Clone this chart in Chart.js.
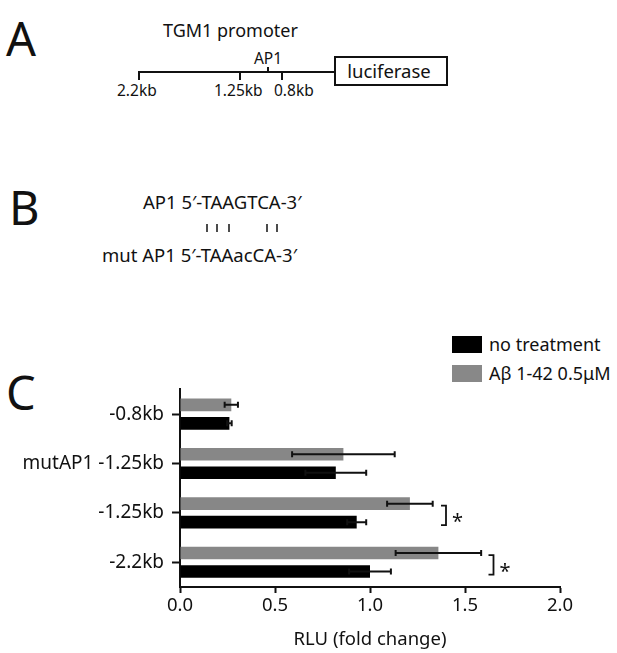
<!DOCTYPE html>
<html lang="en">
<head>
  <meta charset="UTF-8" />
  <title>TGM1 promoter luciferase</title>
  <script src="https://cdn.jsdelivr.net/npm/chart.js"></script>
  <style>
    body { margin: 0; background: #fff; }
    #fig { position: relative; width: 617px; height: 653px; overflow: hidden; }
    #fig svg { position: absolute; left: 0; top: 0; }
    #rluChart { position: absolute; left: 0; top: 370px; }
    svg text { font-family: 'Noto Sans', 'Open Sans', sans-serif; fill: #111; }
  </style>
</head>
<body>
<div id="fig">
  <svg width="617" height="653">
    <!-- A: promoter construct -->
    <text x="6" y="56" font-size="47">A</text>
    <text x="163" y="37" font-size="18">TGM1 promoter</text>
    <g stroke="#111" stroke-width="2" fill="none">
      <line x1="138" y1="72" x2="335" y2="72" />
      <line x1="139" y1="71" x2="139" y2="80" />
      <line x1="240" y1="71" x2="240" y2="80" />
      <line x1="282" y1="71" x2="282" y2="80" />
      <line x1="268" y1="67" x2="268" y2="72" />
      <rect x="335" y="57" width="112" height="28" fill="#fff" />
    </g>
    <text x="268" y="64" font-size="15.5" text-anchor="middle">AP1</text>
    <text x="117" y="96" font-size="15.5">2.2kb</text>
    <text x="214" y="96" font-size="15.5">1.25kb</text>
    <text x="274" y="96" font-size="15.5">0.8kb</text>
    <text x="389" y="78" font-size="18.5" text-anchor="middle">luciferase</text>

    <!-- B: AP1 site -->
    <text x="9" y="225" font-size="47">B</text>
    <text x="143" y="209" font-size="18.5">AP1 5′-TAAGTCA-3′</text>
    <g stroke="#111" stroke-width="1.5">
      <line x1="207" y1="224" x2="207" y2="232" />
      <line x1="217" y1="224" x2="217" y2="232" />
      <line x1="229" y1="224" x2="229" y2="232" />
      <line x1="267" y1="224" x2="267" y2="232" />
      <line x1="277" y1="224" x2="277" y2="232" />
    </g>
    <text x="102" y="262" font-size="18.5">mut AP1 5′-TAAacCA-3′</text>

    <!-- C -->
    <text x="6" y="410" font-size="47">C</text>
    <rect x="452" y="336" width="30" height="17" fill="#000" />
    <rect x="452" y="365" width="30" height="17" fill="#888" />
    <text x="489" y="351" font-size="18">no treatment</text>
    <text x="489" y="380" font-size="18">Aβ 1-42 0.5μM</text>
  </svg>
  <canvas id="rluChart" width="617" height="283"></canvas>
</div>

<script>
  // values
  const constructs = ['-0.8kb', 'mutAP1 -1.25kb', '-1.25kb', '-2.2kb'];
  const noTreatment = [0.26, 0.82, 0.93, 1.00];
  const noTreatmentErr = [0.012, 0.16, 0.05, 0.11];
  const abeta = [0.27, 0.86, 1.21, 1.36];
  const abetaErr = [0.035, 0.27, 0.12, 0.225];
  const sigConstructs = ['-1.25kb', '-2.2kb'];
  const sigBracketX = [1.40, 1.65];
  const xTicks = [0, 0.5, 1.0, 1.5, 2.0];

  const FONT = "'Noto Sans', 'Open Sans', sans-serif";
  const INK = '#111';

  // error bars + significance brackets on top of the bars
  const errorBars = {
    id: 'errorBars',
    afterDatasetsDraw(chart) {
      const { ctx, scales: { x } } = chart;
      ctx.save();
      ctx.strokeStyle = '#111';
      ctx.lineWidth = 2;
      chart.data.datasets.forEach((ds, i) => {
        chart.getDatasetMeta(i).data.forEach((bar, j) => {
          const x0 = x.getPixelForValue(ds.data[j] - ds.errors[j]);
          const x1 = x.getPixelForValue(ds.data[j] + ds.errors[j]);
          const y = bar.y;
          ctx.beginPath();
          ctx.moveTo(x0, y); ctx.lineTo(x1, y);
          ctx.moveTo(x0, y - 3); ctx.lineTo(x0, y + 3);
          ctx.moveTo(x1, y - 3); ctx.lineTo(x1, y + 3);
          ctx.stroke();
        });
      });

      ctx.lineWidth = 1.8;
      ctx.fillStyle = INK;
      ctx.font = `20px ${FONT}`;
      ctx.textAlign = 'left';
      ctx.textBaseline = 'alphabetic';
      sigConstructs.forEach((c, k) => {
        const j = constructs.indexOf(c);
        const yTop = chart.getDatasetMeta(0).data[j].y + 2;
        const yBot = chart.getDatasetMeta(1).data[j].y + 3;
        const bx = x.getPixelForValue(sigBracketX[k]);
        ctx.beginPath();
        ctx.moveTo(bx - 5, yTop); ctx.lineTo(bx, yTop);
        ctx.lineTo(bx, yBot); ctx.lineTo(bx - 5, yBot);
        ctx.stroke();
        ctx.fillText('*', bx + 6, (yTop + yBot) / 2 + 13);
      });
      ctx.restore();
    }
  };

  new Chart(document.getElementById('rluChart'), {
    type: 'bar',
    data: {
      labels: constructs,
      datasets: [
        { label: 'Aβ 1-42 0.5μM', data: abeta, errors: abetaErr, backgroundColor: '#878787' },
        { label: 'no treatment', data: noTreatment, errors: noTreatmentErr, backgroundColor: '#000' }
      ]
    },
    options: {
      indexAxis: 'y',
      responsive: false,
      animation: false,
      categoryPercentage: 0.75,
      barPercentage: 0.68,
      layout: { padding: { top: 14, right: 57, left: 0, bottom: 0 } },
      plugins: { legend: { display: false }, tooltip: { enabled: false } },
      scales: {
        x: {
          min: 0, max: 2,
          afterBuildTicks: s => { s.ticks = xTicks.map(v => ({ value: v })); },
          afterFit: s => { s.height = 66; },
          grid: { drawOnChartArea: false, tickLength: 6, tickWidth: 2, tickColor: '#111' },
          border: { color: '#111', width: 2 },
          ticks: { callback: v => v.toFixed(1), color: INK, font: { family: FONT, size: 18.5 }, padding: 2, maxRotation: 0 },
          title: { display: true, text: 'RLU (fold change)', color: INK, font: { family: FONT, size: 18.5 }, padding: { top: 0, bottom: 2 } }
        },
        y: {
          afterFit: s => { s.width = 180; },
          grid: { offset: false, drawOnChartArea: false, tickLength: 8, tickWidth: 2, tickColor: '#111' },
          border: { color: '#111', width: 2 },
          ticks: { color: INK, font: { family: FONT, size: 19 }, padding: 8 }
        }
      }
    },
    plugins: [errorBars]
  });
</script>
</body>
</html>
